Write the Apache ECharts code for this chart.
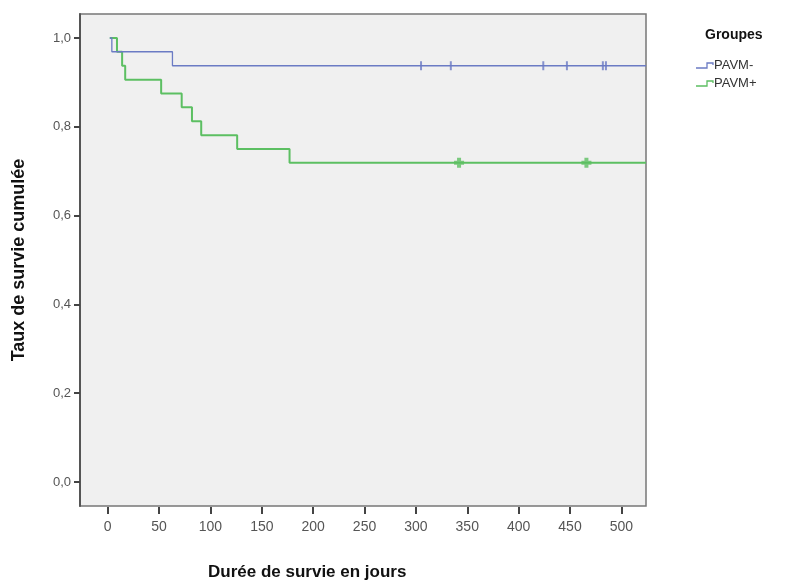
<!DOCTYPE html>
<html>
<head>
<meta charset="utf-8">
<script src="https://cdn.jsdelivr.net/npm/echarts@6/dist/echarts.min.js"></script>
<style>
html,body{margin:0;padding:0;background:#fff;}
#chart{width:799px;height:586px;}
</style>
</head>
<body>
<div id="chart"></div>
<script>
// Kaplan-Meier step points: [day, cumulative survival]
const pavmMinus = [[2,1],[4,0.969],[63,0.9375],[524,0.9375]];
const pavmPlus = [[2,1],[9,0.969],[14,0.9375],[17,0.906],[52,0.875],[72,0.844],[82,0.8125],[91,0.781],[126,0.75],[177,0.719],[524,0.719]];
// censored observations
const censorMinus = [[305,0.9375],[334,0.9375],[424,0.9375],[447,0.9375],[482,0.9375],[485,0.9375]];
const censorPlus = [[342,0.719],[466,0.719]];
const xTicks = [0,50,100,150,200,250,300,350,400,450,500];
const yTicks = [0,0.2,0.4,0.6,0.8,1.0];
const groupNames = ['PAVM-','PAVM+'];
const colors = ['#6b7bc4','#5cbf62'];

const chart = echarts.init(document.getElementById('chart'));
const font = 'Liberation Sans, Arial, sans-serif';

function legendItem(i, y){
  return [{
    type:'polyline', silent:true,
    shape:{points:[[696,y+2],[707,y+2],[707,y-3],[713,y-3],[713,y-1]]},
    style:{stroke:colors[i], lineWidth:1.3, fill:null}
  },{
    type:'text', silent:true, left:714, top:y-7,
    style:{text:groupNames[i], font:'13px '+font, fill:'#333'}
  }];
}

chart.setOption({
  animation:false,
  backgroundColor:'#fff',
  grid:{left:80, top:14, width:566, height:492, show:true, backgroundColor:'#f0f0f0', borderColor:'#777', borderWidth:1.5},
  xAxis:{
    type:'value', min:-27, max:524, offset:1,
    axisLine:{show:false, onZero:false},
    splitLine:{show:false},
    axisTick:{show:true, length:7, lineStyle:{color:'#444', width:2}, customValues:xTicks},
    axisLabel:{margin:13, fontSize:14, color:'#555', fontFamily:font, customValues:xTicks}
  },
  yAxis:{
    type:'value', min:-0.054, max:1.054,
    name:'Taux de survie cumulée', nameLocation:'middle', nameGap:52,
    nameTextStyle:{fontSize:18, fontWeight:'bold', color:'#111', fontFamily:font},
    axisLine:{show:true, onZero:false, lineStyle:{color:'#555', width:2}},
    splitLine:{show:false},
    axisTick:{show:true, length:6, lineStyle:{color:'#444', width:2}, customValues:yTicks},
    axisLabel:{margin:9, fontSize:13, color:'#555', fontFamily:font, customValues:yTicks,
      formatter:v=>v.toFixed(1).replace('.',',')}
  },
  series:[
    {name:groupNames[0], type:'line', step:'end', data:pavmMinus, symbol:'none', lineStyle:{color:colors[0], width:1.3}, z:3},
    {name:groupNames[1], type:'line', step:'end', data:pavmPlus, symbol:'none', lineStyle:{color:colors[1], width:2}, z:2},
    {type:'scatter', data:censorMinus, symbol:'rect', symbolSize:[2,9], itemStyle:{color:colors[0]}, z:4},
    {type:'scatter', data:censorPlus, symbol:'path://M3,0H7V3H10V7H7V10H3V7H0V3H3Z', symbolSize:[10,10], itemStyle:{color:colors[1]}, z:4}
  ],
  graphic:[
    {type:'text', silent:true, left:208, top:564, style:{text:'Durée de survie en jours', font:'bold 17px '+font, fill:'#111'}},
    {type:'text', silent:true, left:705, top:28, style:{text:'Groupes', font:'bold 14px '+font, fill:'#111'}},
    ...legendItem(0,66),
    ...legendItem(1,84)
  ]
});
</script>
</body>
</html>
